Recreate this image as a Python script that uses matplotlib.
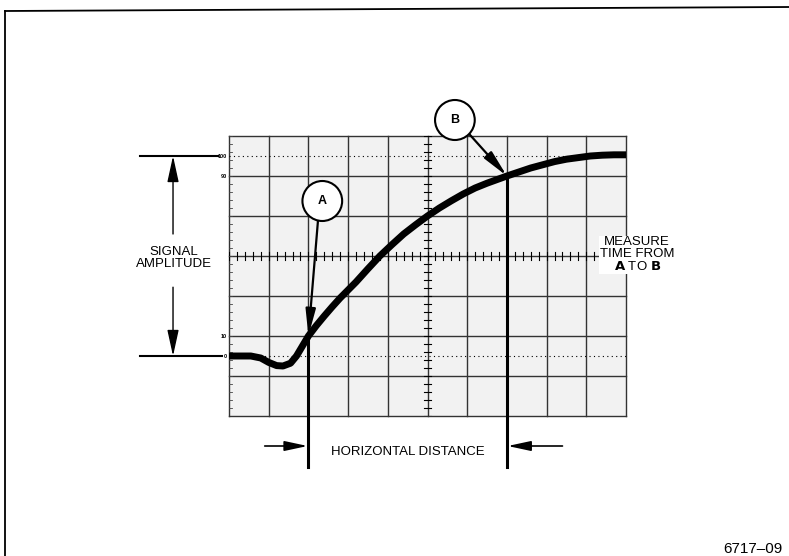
import matplotlib
matplotlib.use("Agg")
import matplotlib.pyplot as plt
from matplotlib.patches import Rectangle, Circle

plt.rcParams["font.family"] = ["Liberation Sans", "DejaVu Sans"]
plt.rcParams["hatch.color"] = "#a8a8a8"
plt.rcParams["hatch.linewidth"] = 0.6

# graticule size in divisions
n_x_div = 10
n_y_div = 7

# signal trace, in divisions
curve_x = [0, 0.55, 0.8, 1.0, 1.2, 1.36, 1.55, 1.7, 1.85, 2.0, 2.2, 2.4, 2.6,
           2.8, 3.0, 3.2, 3.5, 3.8, 4.1, 4.4, 4.7, 5.0, 5.3, 5.6, 5.9, 6.2,
           6.5, 7.0, 7.3, 7.6, 7.9, 8.2, 8.5, 8.8, 9.1, 9.4, 9.7, 10]
curve_y = [1.5, 1.5, 1.45, 1.34, 1.26, 1.25, 1.32, 1.5, 1.75, 2.0, 2.26, 2.5,
           2.73, 2.95, 3.15, 3.35, 3.68, 4.0, 4.28, 4.55, 4.78, 5.0, 5.2,
           5.38, 5.55, 5.7, 5.82, 6.0, 6.1, 6.2, 6.28, 6.36, 6.42, 6.46, 6.5,
           6.52, 6.53, 6.53]

# amplitude levels marked on the left edge
level_names = ["100", "90", "10", "0"]
level_y = [6.5, 6.0, 2.0, 1.5]

# measurement points
point_a = (2.0, 2.0)
point_b = (7.0, 6.0)

fig = plt.figure(figsize=(7.89, 5.56), dpi=100)

# overlay in pixels for the page frame and figure number
page = fig.add_axes([0, 0, 1, 1])
page.set_xlim(0, 789)
page.set_ylim(556, 0)
page.axis("off")
page.plot([5, 789], [11, 7], color="black", lw=1.3)
page.plot([5, 5], [11, 556], color="black", lw=1.3)
page.text(723, 549, "6717\u201309", fontsize=11, ha="left", va="center")

ax = fig.add_axes([229 / 789, 140 / 556, 397 / 789, 280 / 556])
ax.set_xlim(0, n_x_div)
ax.set_ylim(0, n_y_div)
ax.axis("off")

# stippled screen
ax.add_patch(Rectangle((0, 0), n_x_div, n_y_div, facecolor="#f2f2f2",
                       edgecolor="none", hatch="....", zorder=0))

for i in range(n_x_div + 1):
    ax.plot([i, i], [0, n_y_div], color="#333333", lw=1.0, zorder=1,
            clip_on=False)
for j in range(n_y_div + 1):
    ax.plot([0, n_x_div], [j, j], color="#333333", lw=1.0, zorder=1,
            clip_on=False)

# minor ticks on the centre lines and the left edge
for k in range(n_x_div * 5 + 1):
    t = k / 5
    ax.plot([t, t], [3.9, 4.1], color="black", lw=0.8, zorder=1)
for k in range(n_y_div * 5 + 1):
    t = k / 5
    ax.plot([4.9, 5.1], [t, t], color="black", lw=0.8, zorder=1)
    ax.plot([0, 0.07], [t, t], color="#444444", lw=0.6, zorder=1)

# 0% and 100% dotted lines
for lv in [1.5, 6.5]:
    ax.plot([0, n_x_div], [lv, lv], color="black", lw=0.8, ls=(0, (1, 3)),
            zorder=1)

for name, lv in zip(level_names, level_y):
    ax.text(-0.05, lv, name, fontsize=4, fontweight="bold", ha="right",
            va="center", clip_on=False)

# the trace
ax.plot(curve_x, curve_y, color="black", lw=5, solid_capstyle="butt",
        solid_joinstyle="round", zorder=3)

# signal amplitude bracket
ax.plot([-2.24, -0.28], [6.5, 6.5], color="black", lw=1.5, clip_on=False)
ax.plot([-2.24, -0.18], [1.5, 1.5], color="black", lw=1.5, clip_on=False)
ax.annotate("", xy=(-1.41, 6.5), xytext=(-1.41, 4.55), annotation_clip=False,
            arrowprops=dict(arrowstyle="-|>,head_length=1.6,head_width=0.35",
                            color="black", lw=1.0, shrinkA=0, shrinkB=0))
ax.annotate("", xy=(-1.41, 1.5), xytext=(-1.41, 3.22), annotation_clip=False,
            arrowprops=dict(arrowstyle="-|>,head_length=1.6,head_width=0.35",
                            color="black", lw=1.0, shrinkA=0, shrinkB=0))
ax.text(-1.39, 3.95, "SIGNAL\nAMPLITUDE", fontsize=9.5, ha="center",
        va="center", linespacing=1.05, clip_on=False)

# callout circles
for label, cx, cy in [("A", 2.35, 5.375), ("B", 5.69, 7.4)]:
    ax.add_patch(Circle((cx, cy), 0.5, facecolor="white", edgecolor="black",
                        lw=1.5, zorder=5, clip_on=False))
    ax.text(cx, cy, label, fontsize=9, fontweight="bold", ha="center",
            va="center", zorder=6)

ax.annotate("", xy=point_a, xytext=(2.24, 4.87), annotation_clip=False,
            zorder=4,
            arrowprops=dict(arrowstyle="-|>,head_length=1.6,head_width=0.3",
                            color="black", lw=1.6, shrinkA=0, shrinkB=0))
ax.annotate("", xy=point_b, xytext=(6.05, 7.05), annotation_clip=False,
            zorder=4,
            arrowprops=dict(arrowstyle="-|>,head_length=1.6,head_width=0.3",
                            color="black", lw=1.6, shrinkA=0, shrinkB=0))

# horizontal distance markers
for px, py in [point_a, point_b]:
    ax.plot([px, px], [py, -1.28], color="black", lw=2.2, zorder=4,
            clip_on=False)
ax.annotate("", xy=(point_a[0] - 0.02, -0.75), xytext=(0.9, -0.75),
            annotation_clip=False,
            arrowprops=dict(arrowstyle="-|>,head_length=1.4,head_width=0.3",
                            color="black", lw=1.2, shrinkA=0, shrinkB=0))
ax.annotate("", xy=(point_b[0] + 0.02, -0.75), xytext=(8.4, -0.75),
            annotation_clip=False,
            arrowprops=dict(arrowstyle="-|>,head_length=1.4,head_width=0.3",
                            color="black", lw=1.2, shrinkA=0, shrinkB=0))
ax.text(4.5, -0.9, "HORIZONTAL DISTANCE", fontsize=9.5, ha="center",
        va="center", clip_on=False)

# measurement note
ax.text(10.28, 4.03, "MEASURE\nTIME FROM\n$\\bf{A}$ TO $\\bf{B}$",
        fontsize=9.5, ha="center", va="center", linespacing=1.0, zorder=6,
        clip_on=False,
        bbox=dict(facecolor="white", edgecolor="none", pad=0.5))

fig.savefig("out.png", dpi=100)
